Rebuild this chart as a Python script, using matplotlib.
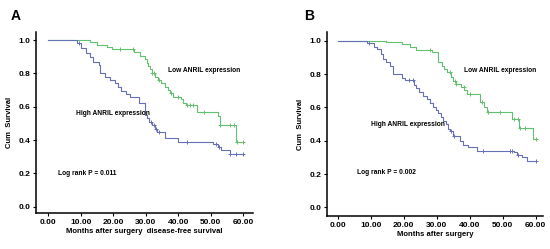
import numpy as np
import matplotlib.pyplot as plt

plt.rcParams['font.family'] = ['Liberation Sans', 'DejaVu Sans']

# Panel A: disease-free survival (step times, survival after each step)
a_low_t = [0, 12.8, 14.9, 18.0, 19.5, 26.3, 28.3, 29.8, 30.3, 30.8, 31.3, 31.8, 32.8, 33.8,
           34.8, 36.0, 36.8, 37.5, 38.3, 40.8, 41.5, 42.4, 45.7, 52.2, 52.8, 57.8, 60.2]
a_low_s = [1.0, 0.986, 0.972, 0.958, 0.944, 0.926, 0.905, 0.885, 0.865, 0.845, 0.825, 0.80, 0.78, 0.76,
           0.74, 0.72, 0.70, 0.68, 0.66, 0.645, 0.625, 0.61, 0.57, 0.545, 0.49, 0.39, 0.39]
a_low_cens = [22, 26, 32, 32.5, 34.2, 37.8, 40, 42.8, 43.6, 44.6, 48, 52.8, 56, 57.2, 58, 60]

a_high_t = [0, 8.7, 10.2, 11.7, 12.8, 13.8, 15.5, 15.9, 17.3, 19.0, 20.5, 21.5, 22.4, 23.8, 25.2,
            27.8, 29.8, 30.3, 31.0, 31.8, 32.8, 33.5, 35.9, 40.0, 50.6, 52.3, 53.3, 55.8, 60.2]
a_high_s = [1.0, 0.98, 0.95, 0.92, 0.90, 0.87, 0.85, 0.80, 0.78, 0.76, 0.745, 0.72, 0.695, 0.675, 0.66,
            0.62, 0.55, 0.53, 0.51, 0.49, 0.465, 0.45, 0.41, 0.39, 0.375, 0.36, 0.34, 0.315, 0.315]
a_high_cens = [9.3, 31.5, 32.5, 33.2, 34, 42.8, 51.6, 52.5, 56, 57.8, 60]

# Panel B: overall survival
b_low_t = [0, 14.8, 19.4, 21.9, 23.7, 28.6, 30.5, 31.5, 32.3, 33.0, 34.5, 35.0, 35.8, 37.5,
           38.3, 39.3, 43.3, 44.5, 45.3, 53.0, 55.0, 59.3, 60.0]
b_low_s = [1.0, 0.99, 0.978, 0.964, 0.944, 0.93, 0.87, 0.85, 0.83, 0.81, 0.78, 0.76, 0.74, 0.72,
           0.705, 0.68, 0.63, 0.60, 0.575, 0.53, 0.475, 0.41, 0.41]
b_low_cens = [28, 34, 35.5, 36, 38.2, 40.2, 43.8, 45.7, 49.2, 53.6, 54.8, 55.4, 56.8, 60]

b_high_t = [0, 8.8, 11.0, 11.8, 13.0, 13.8, 14.8, 15.8, 16.8, 19.6, 20.4, 23.0, 23.9, 24.8, 26.0,
            27.0, 28.0, 28.8, 29.8, 30.5, 31.3, 32.0, 32.8, 33.3, 34.0, 35.0, 37.0, 38.0, 39.6,
            42.3, 53.5, 54.5, 56.0, 57.5, 60.0]
b_high_s = [1.0, 0.985, 0.965, 0.95, 0.92, 0.89, 0.87, 0.85, 0.80, 0.775, 0.765, 0.735, 0.715, 0.69, 0.67,
            0.65, 0.625, 0.605, 0.585, 0.565, 0.545, 0.52, 0.50, 0.47, 0.46, 0.43, 0.40, 0.375, 0.36,
            0.34, 0.33, 0.315, 0.30, 0.28, 0.28]
b_high_cens = [9.5, 21.7, 22.7, 34.5, 35.3, 44.2, 52.2, 53, 54.8, 60]

green = '#62c06e'
blue = '#6670b5'


def km(ax, t, s, cens, color):
    ax.step(t, s, where='post', color=color, lw=0.8)
    t = np.array(t)
    s = np.array(s)
    idx = np.searchsorted(t, cens, side='right') - 1
    ax.plot(cens, s[idx], ls='none', marker='+', ms=3, mew=0.7, color=color)


def style(ax, xlim, ylim, xlabel):
    ax.set_xlim(*xlim)
    ax.set_ylim(*ylim)
    for sp in ['top', 'right']:
        ax.spines[sp].set_visible(False)
    for sp in ['left', 'bottom']:
        ax.spines[sp].set_linewidth(1.1)
    ax.set_xticks(np.arange(0, 61, 10))
    ax.set_xticklabels(['%.2f' % v for v in np.arange(0, 61, 10)])
    ax.set_yticks(np.arange(0, 1.01, 0.2))
    ax.set_yticklabels(['%.1f' % v for v in np.arange(0, 1.01, 0.2)])
    ax.tick_params(direction='out', length=2.5, width=0.8, labelsize=6, pad=1.5)
    for lab in ax.get_xticklabels() + ax.get_yticklabels():
        lab.set_fontweight('bold')
    ax.set_xlabel(xlabel, fontsize=5.5, fontweight='bold', labelpad=2)
    ax.set_ylabel('Cum  Survival', fontsize=5.5, fontweight='bold', labelpad=4)


fig = plt.figure(figsize=(5.5, 2.49), dpi=100)
axA = fig.add_axes([0.0655, 0.1446, 0.3945, 0.7264])
axB = fig.add_axes([0.595, 0.1325, 0.392, 0.7385])

km(axA, a_low_t, a_low_s, a_low_cens, green)
km(axA, a_high_t, a_high_s, a_high_cens, blue)
style(axA, (-3.8, 63), (-0.038, 1.048), 'Months after surgery  disease-free survival')
axA.text(36.8, 0.82, 'Low ANRIL expression', fontsize=4.8, fontweight='bold', va='center')
axA.text(8.5, 0.56, 'High ANRIL expression', fontsize=4.8, fontweight='bold', va='center')
axA.text(3.1, 0.20, 'Log rank P = 0.011', fontsize=4.8, fontweight='bold', va='center')

km(axB, b_low_t, b_low_s, b_low_cens, green)
km(axB, b_high_t, b_high_s, b_high_cens, blue)
style(axB, (-3.15, 62.2), (-0.052, 1.052), 'Months after surgery')
axB.text(38.3, 0.82, 'Low ANRIL expression', fontsize=4.8, fontweight='bold', va='center')
axB.text(10.1, 0.50, 'High ANRIL expression', fontsize=4.8, fontweight='bold', va='center')
axB.text(5.8, 0.21, 'Log rank P = 0.002', fontsize=4.8, fontweight='bold', va='center')

fig.text(16 / 550, 1 - 16 / 249, 'A', fontsize=10, fontweight='bold', ha='center', va='center')
fig.text(309 / 550, 1 - 16 / 249, 'B', fontsize=10, fontweight='bold', ha='center', va='center')

fig.savefig('out.png', dpi=100)
